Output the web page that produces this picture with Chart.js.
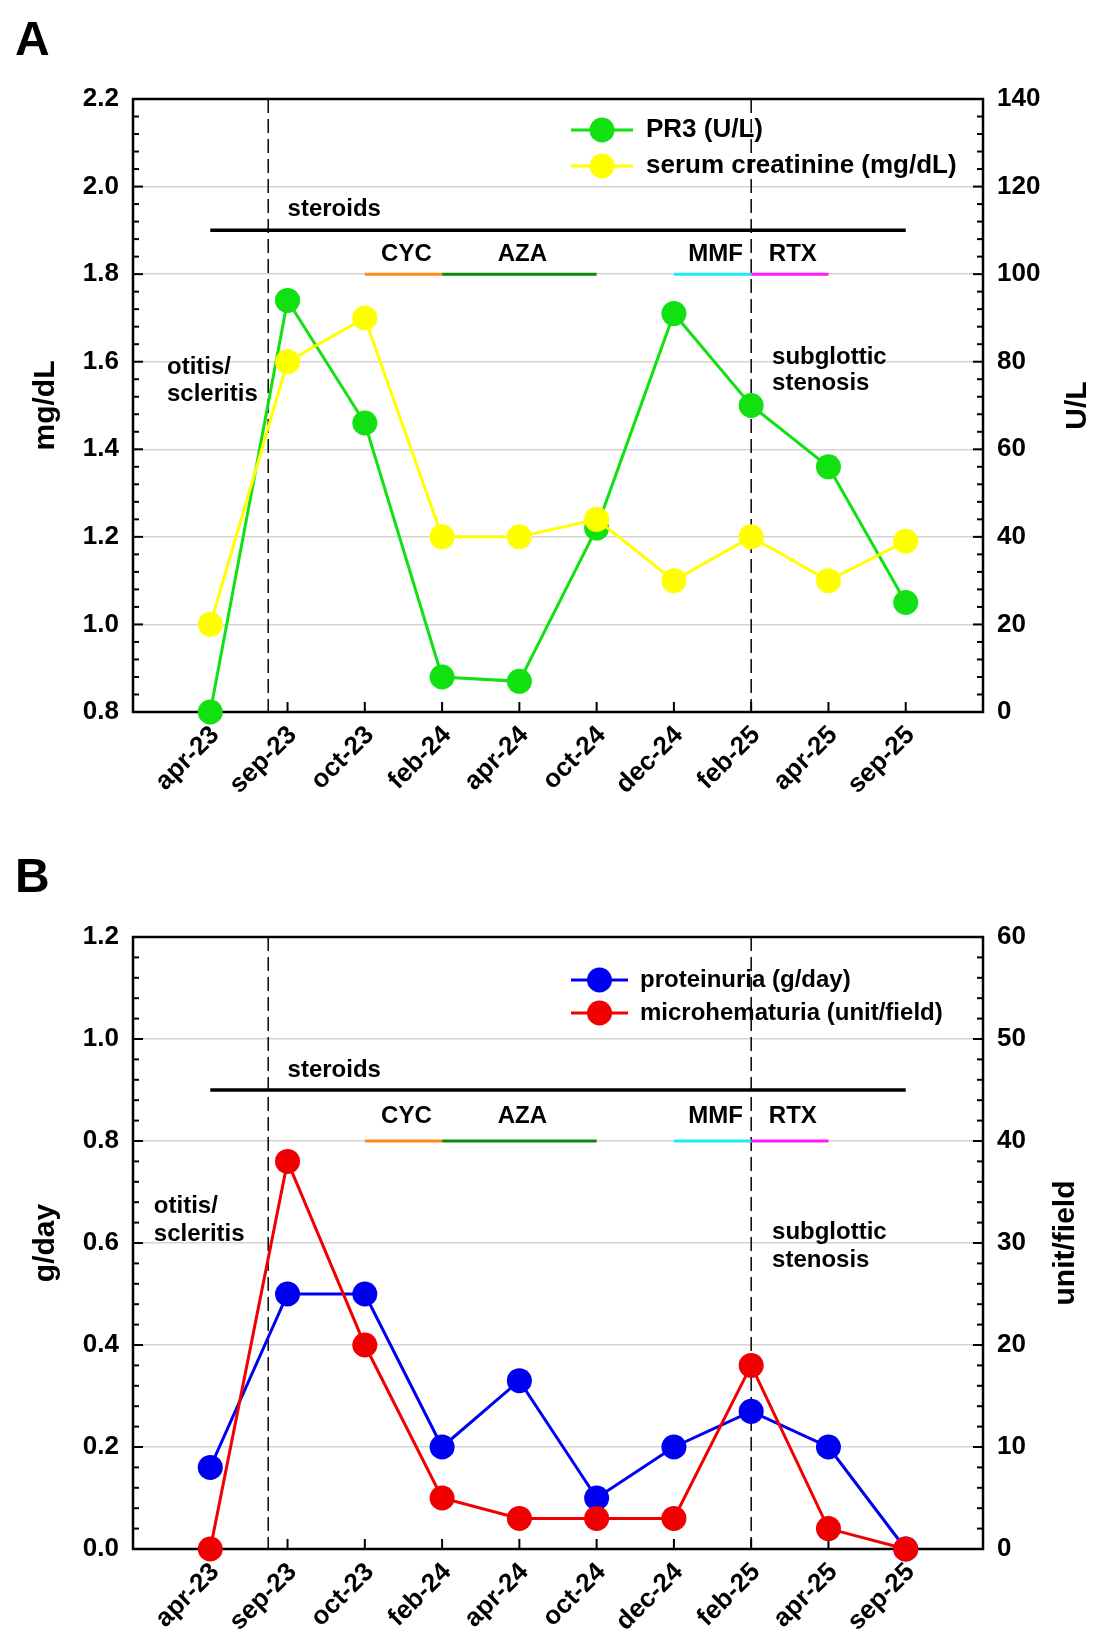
<!DOCTYPE html>
<html lang="en">
<head>
  <meta charset="UTF-8" />
  <title>PR3 / creatinine / proteinuria timeline</title>
  <script src="https://cdn.jsdelivr.net/npm/chart.js"></script>
  <style>
    body { margin: 0; background: #fff; }
    #wrap { position: relative; width: 1106px; height: 1649px; }
    canvas { position: absolute; left: 0; }
  </style>
</head>
<body>
  <div id="wrap">
    <canvas id="chartA" width="1106" height="820" style="top:0"></canvas>
    <canvas id="chartB" width="1106" height="829" style="top:820px"></canvas>
  </div>

  <script>
    // visits
    const months = ["apr-23", "sep-23", "oct-23", "feb-24", "apr-24", "oct-24", "dec-24", "feb-25", "apr-25", "sep-25"];

    // panel A
    const pr3 = [0, 94, 66, 8, 7, 42, 91, 70, 56, 25];              // U/L
    const creatinine = [1.0, 1.6, 1.7, 1.2, 1.2, 1.24, 1.1, 1.2, 1.1, 1.19]; // mg/dL
    const ticksMgdl = [0.8, 1.0, 1.2, 1.4, 1.6, 1.8, 2.0, 2.2];
    const ticksUL = [0, 20, 40, 60, 80, 100, 120, 140];

    // panel B
    const proteinuria = [0.16, 0.5, 0.5, 0.2, 0.33, 0.1, 0.2, 0.27, 0.2, 0.0]; // g/day
    const hematuria = [0, 38, 20, 5, 3, 3, 3, 18, 2, 0];                      // unit/field
    const ticksGday = [0.0, 0.2, 0.4, 0.6, 0.8, 1.0, 1.2];
    const ticksUnit = [0, 10, 20, 30, 40, 50, 60];

    // therapies (start / end as visit index) and clinical events
    const therapies = ["steroids", "CYC", "AZA", "MMF", "RTX"];
    const therapyStart = [0, 2, 3, 6, 7];
    const therapyEnd = [9, 3, 5, 7, 8];
    const eventAt = [0.75, 7];

    const FONT = '"Liberation Sans", Arial, sans-serif';
    const therapyColors = ["#000000", "#ff8a1c", "#0a8a0a", "#1ee8f0", "#ff1aff"];
    Chart.defaults.font.family = FONT;
    Chart.defaults.color = "#000";

    function makePanel(id, cfg) {
      const datasets = cfg.series.map(s => ({
        label: s.label,
        data: s.values.map((v, i) => ({ x: i, y: v })),
        yAxisID: s.axis,
        borderColor: s.color,
        backgroundColor: s.color,
        borderWidth: 3,
        pointRadius: 12.5,
        pointHoverRadius: 12.5,
        pointBorderWidth: 0,
        order: s.order,
        clip: false,
      }));
      therapies.forEach((name, k) => {
        const lvl = cfg.levels[k ? 1 : 0];
        datasets.push({
          label: name,
          data: [{ x: therapyStart[k], y: lvl }, { x: therapyEnd[k], y: lvl }],
          yAxisID: "y",
          borderColor: therapyColors[k],
          borderWidth: k ? 3 : 3.5,
          pointRadius: 0,
          order: 10,
          clip: false,
        });
      });

      const decor = {
        id: "decor",
        beforeDatasetsDraw(chart) {
          const { ctx, chartArea: a, scales } = chart;
          ctx.save();
          // event markers
          ctx.strokeStyle = "#111";
          ctx.lineWidth = 1.6;
          ctx.setLineDash([14, 6]);
          eventAt.forEach(e => {
            const px = scales.x.getPixelForValue(e);
            ctx.beginPath(); ctx.moveTo(px, a.top); ctx.lineTo(px, a.bottom); ctx.stroke();
          });
          ctx.setLineDash([]);
          // frame
          ctx.strokeStyle = "#000";
          ctx.lineWidth = 2.5;
          ctx.strokeRect(a.left, a.top, a.right - a.left, a.bottom - a.top);
          // inward tick marks
          ctx.lineWidth = 2;
          const seg = (x0, y0, x1, y1) => { ctx.beginPath(); ctx.moveTo(x0, y0); ctx.lineTo(x1, y1); ctx.stroke(); };
          const yTicks = (scale, vals, edge, dir) => {
            vals.forEach((v, i) => {
              const py = scale.getPixelForValue(v);
              seg(edge, py, edge + dir * 10, py);
              if (i < vals.length - 1) {
                const step = (vals[i + 1] - v) / 5;
                for (let k = 1; k < 5; k++) {
                  const pm = scale.getPixelForValue(v + k * step);
                  seg(edge, pm, edge + dir * 6, pm);
                }
              }
            });
          };
          yTicks(scales.y, cfg.leftTicks, a.left, 1);
          yTicks(scales.y2, cfg.rightTicks, a.right, -1);
          months.forEach((m, i) => {
            const px = scales.x.getPixelForValue(i);
            seg(px, a.bottom, px, a.bottom - 10);
          });
          ctx.restore();
        },
        afterDatasetsDraw(chart) {
          const { ctx, chartArea: a, scales } = chart;
          const x = scales.x, y = scales.y;
          ctx.save();
          ctx.fillStyle = "#000";
          ctx.textBaseline = "middle";
          ctx.font = "bold 24px " + FONT;
          // therapy labels
          therapies.forEach((name, k) => {
            const row = k ? 1 : 0;
            const py = y.getPixelForValue(cfg.levels[row]) - cfg.labelLift[row];
            if (k === 0) {
              ctx.textAlign = "left";
              ctx.fillText(name, x.getPixelForValue(therapyStart[k] + 1), py);
            } else {
              ctx.textAlign = "center";
              ctx.fillText(name, x.getPixelForValue((therapyStart[k] + therapyEnd[k]) / 2) + 3, py);
            }
          });
          // clinical notes
          ctx.textAlign = "left";
          cfg.notes.forEach(n => {
            const px = x.getPixelForValue(n.x);
            const py = y.getPixelForValue(n.y);
            n.lines.forEach((t, j) => ctx.fillText(t, px, py + j * n.gap));
          });
          // legend (line + dot)
          const L = cfg.legend;
          cfg.series.forEach((s, k) => {
            const py = a.top + L.rows[k];
            ctx.strokeStyle = s.color;
            ctx.lineWidth = 3;
            ctx.beginPath(); ctx.moveTo(L.x0, py); ctx.lineTo(L.x1, py); ctx.stroke();
            ctx.fillStyle = s.color;
            ctx.beginPath(); ctx.arc((L.x0 + L.x1) / 2, py, 12.5, 0, Math.PI * 2); ctx.fill();
            ctx.fillStyle = "#000";
            ctx.font = "bold " + L.size + "px " + FONT;
            ctx.fillText(s.label, L.tx, py);
          });
          ctx.restore();
        },
        afterDraw(chart) {
          const { ctx, chartArea: a } = chart;
          ctx.save();
          ctx.fillStyle = "#000";
          // right axis title, reading bottom-to-top like the left one
          ctx.font = "bold 30px " + FONT;
          ctx.translate(cfg.rightTitleX, (a.top + a.bottom) / 2);
          ctx.rotate(-Math.PI / 2);
          ctx.textAlign = "center";
          ctx.textBaseline = "alphabetic";
          ctx.fillText(cfg.rightTitle, 0, 0);
          ctx.restore();
          ctx.save();
          ctx.font = "bold 48px " + FONT;
          ctx.fillStyle = "#000";
          ctx.fillText(cfg.letter, 15, cfg.letterY);
          ctx.restore();
        },
      };

      const tickFont = { size: 26, weight: "bold" };
      return new Chart(document.getElementById(id), {
        type: "line",
        data: { datasets },
        options: {
          responsive: false,
          animation: false,
          events: [],
          layout: { padding: { top: cfg.top, left: 0, right: 0, bottom: 0 } },
          plugins: { legend: { display: false }, tooltip: { enabled: false } },
          scales: {
            x: {
              type: "linear",
              min: -1,
              max: 10,
              afterBuildTicks: s => { s.ticks = months.map((m, i) => ({ value: i })); },
              afterFit: s => { s.height = cfg.xHeight; },
              grid: { display: false, drawTicks: false },
              border: { display: false },
              ticks: {
                autoSkip: false, minRotation: 45, maxRotation: 45, padding: 8, labelOffset: 5,
                font: tickFont, callback: v => months[v] ?? "",
              },
            },
            y: {
              position: "left",
              min: cfg.leftTicks[0],
              max: cfg.leftTicks[cfg.leftTicks.length - 1],
              afterBuildTicks: s => { s.ticks = cfg.leftTicks.map(v => ({ value: v })); },
              afterFit: s => { s.width = 133; },
              grid: { color: "#d4d4d4", lineWidth: 1.5, drawTicks: false },
              border: { display: false },
              ticks: { padding: 14, font: tickFont, callback: v => v.toFixed(1) },
              title: { display: true, text: cfg.leftTitle, font: { size: 30, weight: "bold" }, padding: { top: 28 } },
            },
            y2: {
              position: "right",
              min: cfg.rightTicks[0],
              max: cfg.rightTicks[cfg.rightTicks.length - 1],
              afterBuildTicks: s => { s.ticks = cfg.rightTicks.map(v => ({ value: v })); },
              afterFit: s => { s.width = 123; },
              grid: { display: false, drawTicks: false },
              border: { display: false },
              ticks: { padding: 14, font: tickFont, callback: v => String(v) },
            },
          },
        },
        plugins: [decor],
      });
    }

    makePanel("chartA", {
      letter: "A", letterY: 55,
      top: 99, xHeight: 108,
      leftTicks: ticksMgdl, rightTicks: ticksUL,
      leftTitle: "mg/dL", rightTitle: "U/L", rightTitleX: 1086,
      series: [
        { label: "PR3 (U/L)", values: pr3, axis: "y2", color: "#11e011", order: 2 },
        { label: "serum creatinine (mg/dL)", values: creatinine, axis: "y", color: "#ffff00", order: 1 },
      ],
      levels: [1.9, 1.8], labelLift: [21, 20],
      notes: [
        { lines: ["otitis/", "scleritis"], x: -0.56, y: 1.586, gap: 27 },
        { lines: ["subglottic", "stenosis"], x: 7.27, y: 1.611, gap: 26 },
      ],
      legend: { rows: [31, 67], x0: 571, x1: 633, tx: 646, size: 26 },
    });

    makePanel("chartB", {
      letter: "B", letterY: 72,
      top: 117, xHeight: 100,
      leftTicks: ticksGday, rightTicks: ticksUnit,
      leftTitle: "g/day", rightTitle: "unit/field", rightTitleX: 1074,
      series: [
        { label: "proteinuria (g/day)", values: proteinuria, axis: "y", color: "#0000f0", order: 2 },
        { label: "microhematuria (unit/field)", values: hematuria, axis: "y2", color: "#f00000", order: 1 },
      ],
      levels: [0.9, 0.8], labelLift: [20, 25],
      notes: [
        { lines: ["otitis/", "scleritis"], x: -0.73, y: 0.672, gap: 28 },
        { lines: ["subglottic", "stenosis"], x: 7.27, y: 0.62, gap: 28 },
      ],
      legend: { rows: [43, 76], x0: 571, x1: 628, tx: 640, size: 24 },
    });
  </script>
</body>
</html>
